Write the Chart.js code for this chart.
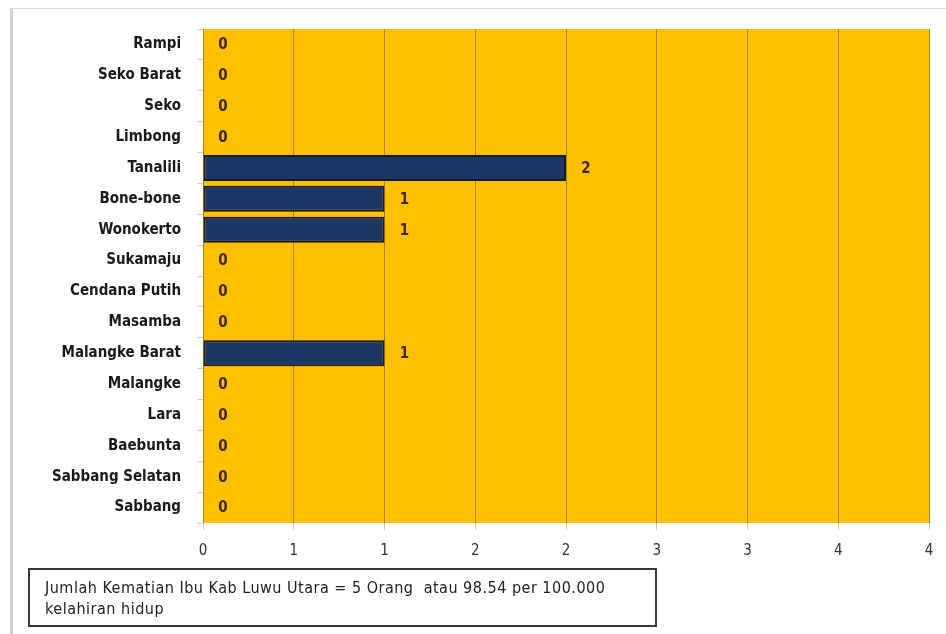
<!DOCTYPE html>
<html>
<head>
<meta charset="utf-8">
<script src="https://cdn.jsdelivr.net/npm/chart.js@4.4.1/dist/chart.umd.min.js"></script>
<style>
  html, body { margin: 0; padding: 0; background: #fff; }
  #wrap { position: relative; width: 946px; height: 634px; overflow: hidden; }
  #frame { position: absolute; left: 10px; top: 8px; right: 0; bottom: 0;
           border-top: 1px solid #dcdcdc; border-left: 3px solid #d2d2d2; }
  #c { position: absolute; left: 0; top: 0; }
  #note { position: absolute; left: 28px; top: 568px; width: 625px; height: 55px;
          border: 2px solid #3a3a3a; box-sizing: content-box;
          font-family: "DejaVu Sans Condensed", "DejaVu Sans", sans-serif; font-stretch: condensed;
          font-size: 16px; letter-spacing: 0.5px; line-height: 21px; color: #222; padding: 0; }
  #note div { padding-left: 15px; }
</style>
</head>
<body>
<div id="wrap">
  <div id="frame"></div>
  <canvas id="c" width="946" height="634"></canvas>
  <div id="note"><div style="padding-top:7px">Jumlah Kematian Ibu Kab Luwu Utara = 5 Orang&nbsp;&nbsp;atau 98.54 per 100.000</div><div>kelahiran hidup</div></div>
</div>
<script>
// Kecamatan (districts), top to bottom
const kecamatan = ["Rampi", "Seko Barat", "Seko", "Limbong", "Tanalili", "Bone-bone",
  "Wonokerto", "Sukamaju", "Cendana Putih", "Masamba", "Malangke Barat", "Malangke",
  "Lara", "Baebunta", "Sabbang Selatan", "Sabbang"];
// Jumlah kematian ibu per kecamatan
const kematianIbu = [0, 0, 0, 0, 2, 1, 1, 0, 0, 0, 1, 0, 0, 0, 0, 0];
// Value axis range
const sumbuMin = 0;
const sumbuMax = 4;
const sumbuStep = 0.5;

const narrow = '"DejaVu Sans Condensed", "DejaVu Sans", sans-serif';

const plotBackground = {
  id: 'plotBackground',
  beforeDraw(chart) {
    const { ctx, chartArea: a } = chart;
    ctx.save();
    ctx.fillStyle = '#FFC000';
    ctx.fillRect(a.left, a.top, a.right - a.left, a.bottom - a.top);
    ctx.restore();
  }
};

const valueLabels = {
  id: 'valueLabels',
  afterDatasetsDraw(chart) {
    const { ctx } = chart;
    const meta = chart.getDatasetMeta(0);
    const data = chart.data.datasets[0].data;
    ctx.save();
    ctx.font = 'bold 15px ' + narrow;
    ctx.fillStyle = '#3a2a00';
    ctx.textAlign = 'center';
    ctx.textBaseline = 'middle';
    meta.data.forEach((el, i) => {
      ctx.fillText(String(data[i]), el.x + 20, el.y + 1);
    });
    ctx.restore();
  }
};

new Chart(document.getElementById('c'), {
  type: 'bar',
  data: {
    labels: kecamatan,
    datasets: [{
      data: kematianIbu,
      backgroundColor: '#1d3766',
      borderColor: '#141b2b',
      borderWidth: 2,
      borderSkipped: false,
      categoryPercentage: 1,
      barPercentage: 0.84
    }]
  },
  options: {
    indexAxis: 'y',
    responsive: false,
    animation: false,
    layout: { padding: { top: 29, right: 17, bottom: 0, left: 0 } },
    plugins: { legend: { display: false }, tooltip: { enabled: false } },
    scales: {
      x: {
        min: sumbuMin,
        max: sumbuMax,
        afterFit(s) { s.height = 111; },
        ticks: {
          stepSize: sumbuStep,
          padding: 12,
          color: '#333',
          font: { family: narrow, size: 15 },
          callback: v => String(Math.round(v))
        },
        grid: { color: '#a8821a', lineWidth: 1, tickLength: 7, tickColor: '#c8c8c8' },
        border: { display: false }
      },
      y: {
        afterFit(s) { s.width = 203; },
        ticks: {
          padding: 16,
          color: '#1a1a1a',
          font: { family: narrow, size: 15, weight: 'bold' }
        },
        grid: { offset: true, drawOnChartArea: false, tickLength: 6, color: '#cfcfcf' },
        border: { display: false }
      }
    }
  },
  plugins: [plotBackground, valueLabels]
});
</script>
</body>
</html>
